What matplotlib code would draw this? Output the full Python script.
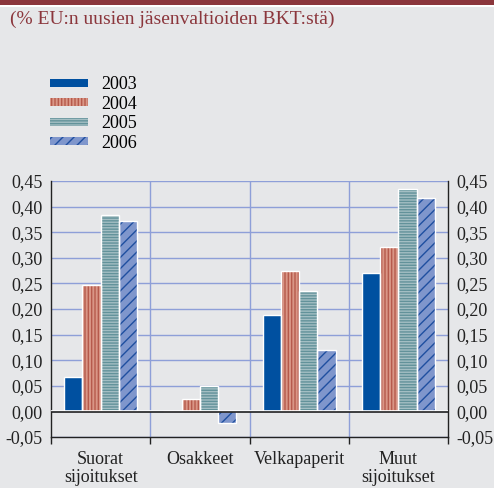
import numpy as np
import matplotlib.pyplot as plt
from matplotlib.patches import Patch, Rectangle

plt.rcParams['font.family'] = ['Liberation Serif', 'DejaVu Serif']
plt.rcParams['hatch.linewidth'] = 1.0

# Data
categories = ['Suorat\nsijoitukset', 'Osakkeet', 'Velkapaperit', 'Muut\nsijoitukset']
years = ['2003', '2004', '2005', '2006']
v2003 = [0.068, 0.000, 0.188, 0.271]
v2004 = [0.247, 0.025, 0.275, 0.321]
v2005 = [0.383, 0.049, 0.235, 0.434]
v2006 = [0.371, -0.023, 0.120, 0.416]
yticks = [-0.05, 0.00, 0.05, 0.10, 0.15, 0.20, 0.25, 0.30, 0.35, 0.40, 0.45]

series = [v2003, v2004, v2005, v2006]
faces = ['#0050a0', '#d99686', '#a3bec3', '#7f96cc']
hatchcol = ['#0050a0', '#b65a4c', '#62929a', '#1f4fa0']
hatches = [None, '|||||', '------', '///']

bg = '#e6e7e9'
gridc = '#8e9fd8'

fig = plt.figure(figsize=(4.94, 4.88), dpi=100)
fig.patch.set_facecolor(bg)
fig.patches.append(Rectangle((0, 1 - 5 / 488), 1, 5 / 488, transform=fig.transFigure,
                             facecolor='#8b363c', edgecolor='none'))
fig.patches.append(Rectangle((0, 1 - 7 / 488), 1, 2 / 488, transform=fig.transFigure,
                             facecolor='white', edgecolor='none'))
fig.text(10 / 494, 1 - 19 / 488, '(% EU:n uusien jäsenvaltioiden BKT:stä)',
         color='#8b363c', fontsize=14, va='center', ha='left')

ax = fig.add_axes([51 / 494, 1 - 437 / 488, 397 / 494, 256 / 488])
ax.set_facecolor(bg)

x = np.arange(len(categories))
w = 0.184
for i, vals in enumerate(series):
    pos = x + (i - 1.5) * w
    # fill + hatch, then a white outline on top
    ax.bar(pos, vals, w, color=faces[i], edgecolor=hatchcol[i], hatch=hatches[i],
           linewidth=0, zorder=3)
    ax.bar(pos, vals, w, fill=False, edgecolor='white', linewidth=1.0, zorder=4)

for yv in yticks:
    ax.axhline(yv, color=gridc, lw=1, zorder=1)
for xv in [0.5, 1.5, 2.5]:
    ax.axvline(xv, color=gridc, lw=1, zorder=1)
ax.axhline(0.0015, color='white', lw=1.2, zorder=5)
ax.axhline(-0.002, color='#222222', lw=1.2, zorder=5)

ax.set_xlim(-0.5, 3.5)
ax.set_ylim(-0.05, 0.45)
ax.set_yticks(yticks)
ax.set_yticklabels([f'{t:.2f}'.replace('.', ',') for t in yticks])
ax.tick_params(axis='y', which='both', length=0, labelsize=13, pad=6,
               left=True, right=True, labelleft=True, labelright=True, colors='#222222')

ax.set_xticks([-0.5, 0.5, 1.5, 2.5, 3.5])
ax.set_xticklabels([])
ax.tick_params(axis='x', which='major', length=5, width=1, color='#222222', direction='out')
ax.set_xticks(x, minor=True)
ax.set_xticklabels(categories, minor=True, fontsize=13, linespacing=1.1)
ax.tick_params(axis='x', which='minor', length=0, pad=10, colors='#222222')

for s in ['left', 'right', 'bottom']:
    ax.spines[s].set_color('#222222')
    ax.spines[s].set_linewidth(1)
ax.spines['top'].set_visible(False)

handles = [Patch(facecolor=faces[i], edgecolor=hatchcol[i], hatch=hatches[i], linewidth=0)
           for i in range(4)]
fig.legend(handles, years, loc='upper left', bbox_to_anchor=(34 / 494, 1 - 60 / 488),
           frameon=False, fontsize=13, handlelength=2.1, handleheight=0.33,
           labelspacing=0.14, handletextpad=0.75)

fig.savefig('out.png', dpi=100, facecolor=bg)
